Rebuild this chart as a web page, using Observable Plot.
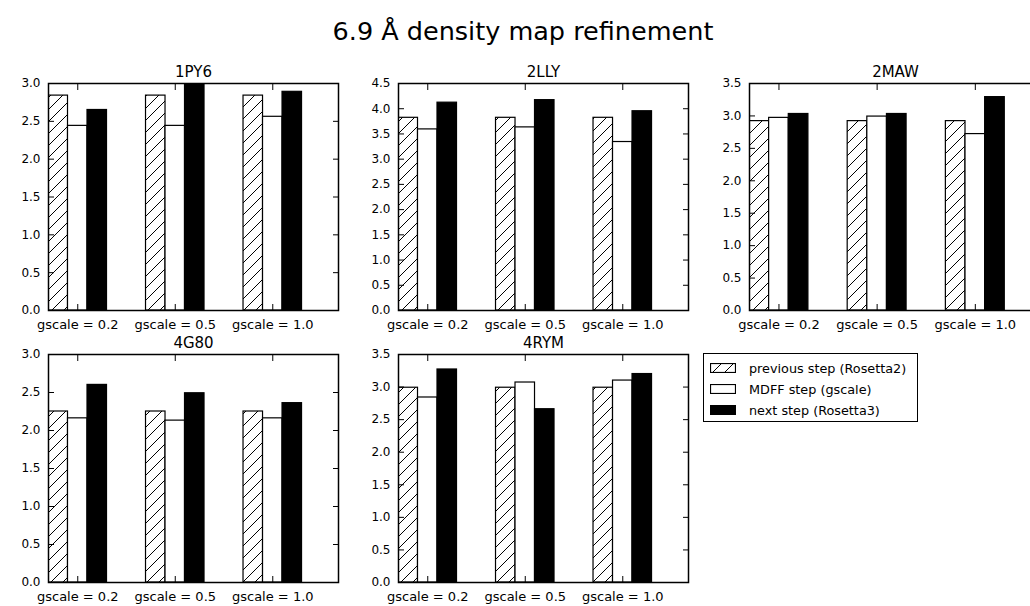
<!DOCTYPE html>
<html><head><meta charset="utf-8">
<script src="https://cdn.jsdelivr.net/npm/d3@7"></script>
<script src="https://cdn.jsdelivr.net/npm/@observablehq/plot@0.6"></script>
<style>
html,body{margin:0;padding:0;background:#fff;}
#chart{position:relative;width:1030px;height:606px;overflow:hidden;background:#fff;font-family:"DejaVu Sans",sans-serif;color:#000;}
.panel{position:absolute;}
#title{position:absolute;left:0;width:1046px;top:19px;text-align:center;font-size:25.5px;line-height:25px;}
#legend{position:absolute;left:703px;top:353px;width:213px;height:67px;border:1px solid #000;font-size:12.8px;}
#legend .item{position:absolute;left:6px;height:14px;display:flex;align-items:center;white-space:nowrap;}
#legend .item svg{margin-right:13px;}
</style></head><body>
<svg width="0" height="0" style="position:absolute">
  <defs>
    <pattern id="hatch" patternUnits="userSpaceOnUse" width="12" height="12">
      <rect width="12" height="12" fill="#fff"/>
      <path d="M-3,3 L3,-3 M0,12 L12,0 M9,15 L15,9" stroke="#000" stroke-width="1"/>
    </pattern>
  </defs>
</svg>
<div id="chart">
  <div id="title">6.9 Å density map refinement</div>
  <div id="legend"></div>
</div>
<script>
// ---- data ----
const panels = ["1PY6", "2LLY", "2MAW", "4G80", "4RYM"];
const gscaleLabels = ["gscale = 0.2", "gscale = 0.5", "gscale = 1.0"];
const seriesNames = ["previous step (Rosetta2)", "MDFF step (gscale)", "next step (Rosetta3)"];
const yMax = [3.0, 4.5, 3.5, 3.0, 3.5];
const previousStep = [
  [2.84, 2.84, 2.84],
  [3.82, 3.82, 3.82],
  [2.92, 2.92, 2.92],
  [2.25, 2.25, 2.25],
  [2.99, 2.99, 2.99]
];
const mdffStep = [
  [2.44, 2.44, 2.56],
  [3.59, 3.63, 3.34],
  [2.97, 2.99, 2.72],
  [2.16, 2.13, 2.16],
  [2.84, 3.07, 3.10]
];
const nextStep = [
  [2.65, 3.00, 2.89],
  [4.12, 4.17, 3.95],
  [3.03, 3.03, 3.29],
  [2.60, 2.49, 2.36],
  [3.27, 2.66, 3.20]
];

// ---- layout / style ----
const barWidth = 0.2;
const xMax = 2.974;
const seriesFill = ["url(#hatch)", "#fff", "#000"];
const pos = [
  {left: 0, top: 50, h: 290, mb: 30, fw: 290},
  {left: 350, top: 50, h: 290, mb: 30, fw: 290},
  {left: 701, top: 50, h: 290, mb: 30, fw: 292},
  {left: 0, top: 321, h: 286, mb: 25, fw: 290},
  {left: 350, top: 321, h: 286, mb: 25, fw: 290}
];

const chart = document.getElementById("chart");
const allSeries = [previousStep, mdffStep, nextStep];
const xTicks = gscaleLabels.map((_, i) => i + 1.5 * barWidth);
const xFmt = d => gscaleLabels[Math.round(d - 1.5 * barWidth)];

panels.forEach((name, p) => {
  const P = pos[p];
  const yTicks = d3.range(0, yMax[p] + 1e-9, 0.5);
  const barMarks = allSeries.map((ser, s) =>
    Plot.rect(ser[p].map((v, g) => ({g, s, v})), {
      x1: d => d.g + d.s * barWidth,
      x2: d => d.g + (d.s + 1) * barWidth,
      y1: 0, y2: "v",
      fill: seriesFill[s], stroke: "#000", strokeWidth: 1.2, clip: true
    })
  );
  const svg = Plot.plot({
    width: 48 + P.fw + 12,
    height: P.h,
    marginLeft: 48, marginRight: 12, marginTop: 33, marginBottom: P.mb,
    x: {domain: [0, xMax], axis: null},
    y: {domain: [0, yMax[p]], axis: null},
    style: {fontFamily: "DejaVu Sans", fontSize: "12px", background: "transparent", color: "#000", overflow: "visible"},
    marks: [
      ...barMarks,
      Plot.axisY(yTicks, {anchor: "left", tickSize: 0, tickPadding: 8, tickFormat: d3.format(".1f"), label: null, fontSize: 12}),
      Plot.axisY(yTicks, {anchor: "left", tickSize: 6, dx: 6, fill: "none", label: null}),
      Plot.axisY(yTicks, {anchor: "right", tickSize: 6, dx: -6, fill: "none", label: null}),
      Plot.axisX(xTicks, {anchor: "bottom", tickSize: 0, tickPadding: 9, tickFormat: xFmt, label: null, fontSize: 13}),
      Plot.axisX(xTicks, {anchor: "bottom", tickSize: 6, dy: -6, fill: "none", label: null}),
      Plot.axisX(xTicks, {anchor: "top", tickSize: 6, dy: 6, fill: "none", label: null}),
      Plot.frame({stroke: "#000", strokeWidth: 1.5}),
      Plot.text([name], {frameAnchor: "top", dy: -7, lineAnchor: "bottom", fontSize: 15, fontWeight: "normal", text: d => d})
    ]
  });
  svg.classList.add("panel");
  svg.style.left = P.left + "px";
  svg.style.top = P.top + "px";
  chart.appendChild(svg);
});

// legend
const legend = document.getElementById("legend");
seriesNames.forEach((n, s) => {
  const item = document.createElement("div");
  item.className = "item";
  item.style.top = (7 + s * 21) + "px";
  item.innerHTML = `<svg width="26" height="10"><rect x="0.5" y="0.5" width="25" height="9" fill="${seriesFill[s]}" stroke="#000" stroke-width="1.2"/></svg><span>${n}</span>`;
  legend.appendChild(item);
});
</script>
</body></html>
